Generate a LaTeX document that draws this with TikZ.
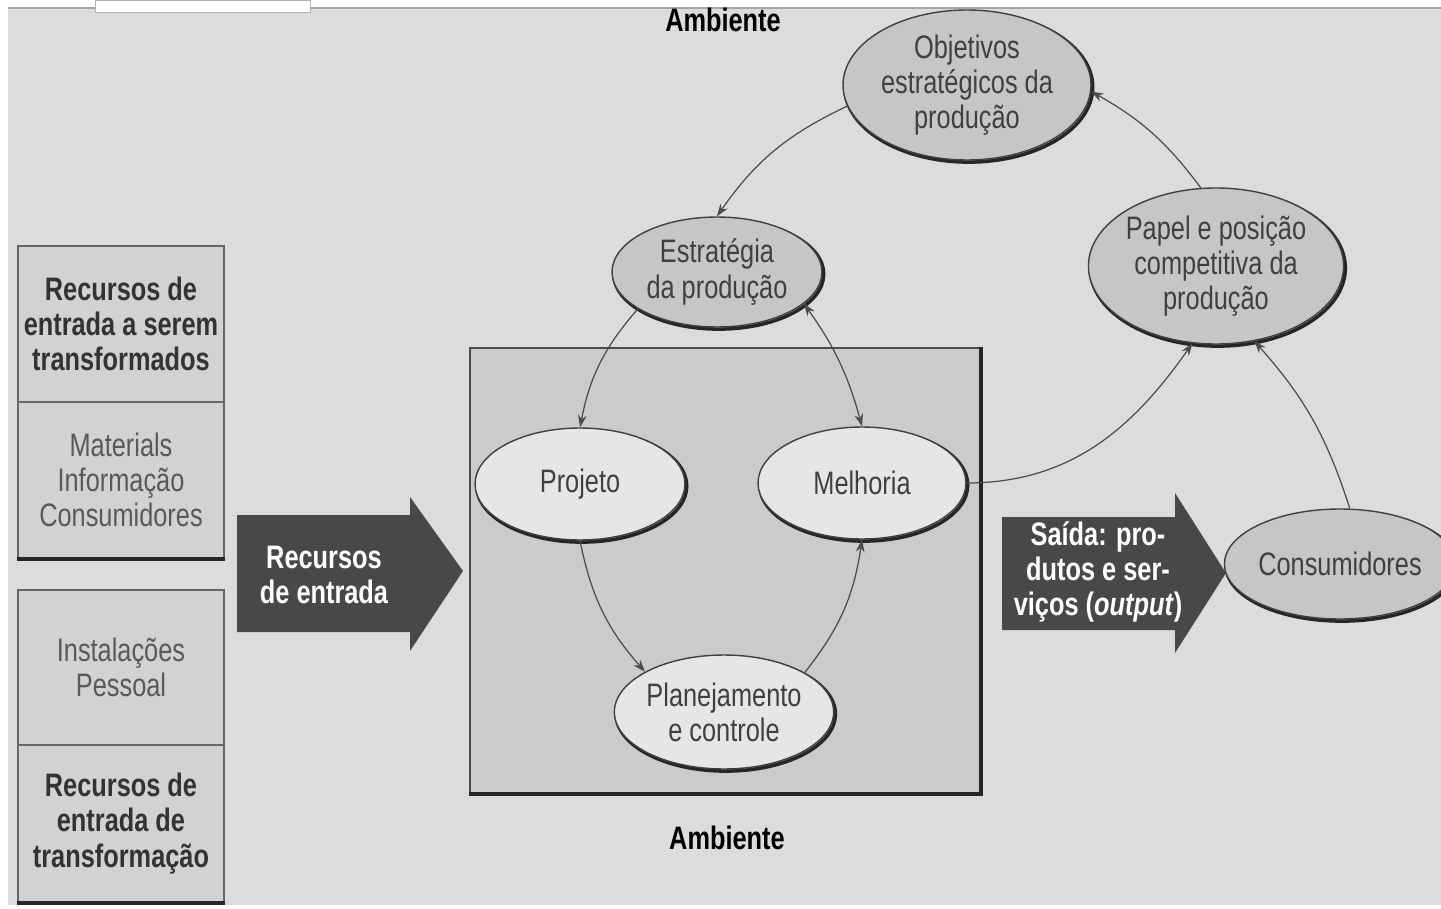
\documentclass[tikz,border=0pt]{standalone}
\usepackage{fontspec}
\setmainfont{Liberation Sans}[FakeStretch=0.78]
\usepackage{tikz}
\usetikzlibrary{arrows.meta}
\usetikzlibrary{shapes.geometric}
\usetikzlibrary{positioning}
\definecolor{bggray}{HTML}{DCDCDC}
\definecolor{boxgray}{HTML}{D2D2D2}
\definecolor{procgray}{HTML}{CBCBCB}
\definecolor{ellgray}{HTML}{C6C6C6}
\definecolor{elllight}{HTML}{E6E6E6}
\definecolor{arrgray}{HTML}{484848}
\definecolor{txtgray}{HTML}{404040}
\newcommand{\dgmfont}{\fontsize{18.5}{20}\selectfont}
\tikzset{elli/.style = {ellipse, draw = black!75, line width = 0.8pt, fill = ellgray, inner sep = 0, align = center, text = txtgray, font = \dgmfont,
    preaction = {draw = black!85, line width = 2pt, transform canvas = {shift = {(1pt, -1.2pt)}}}}}
\tikzset{lelli/.style = {elli, fill = elllight}}
\tikzset{sect/.style = {rectangle, draw = black!60, line width = 1pt, fill = boxgray, minimum width = 4.12cm, inner sep = 0, align = center, text = black!65, font = \dgmfont}}
\tikzset{bsect/.style = {sect, text = black!80, font = \dgmfont\bfseries}}
\tikzset{flow/.style = {-{Stealth[length = 7pt, width = 5pt]}, draw = black!70, line width = 0.7pt}}
\tikzset{arrtext/.style = {text = white, align = center, font = \dgmfont\bfseries}}

\begin{document}
\begin{tikzpicture}[x = 0.02cm, y = 0.02cm]
    \useasboundingbox (0, 0) rectangle (1441, -909);
    \fill [white] (0, 0) rectangle (1441, -909);
    \fill [bggray] (8, -8) rectangle (1441, -905);
    \draw [black!35, line width = 1pt] (8, -8) -- (1441, -8);
    \draw [black!30, fill = white] (95, 0) rectangle (310, -12);

    \node (ambtop) [font = \dgmfont\bfseries] at (723, -20) {Ambiente};
    \node (ambbot) [font = \dgmfont\bfseries] at (727, -838) {Ambiente};

    \node (proc) [rectangle, draw = black!70, line width = 1pt, fill = procgray, minimum width = 10.2cm, minimum height = 8.9cm] at (725, -570.5) {};
    \draw [black!85, line width = 2.2pt] (proc.north east) -- (proc.south east) -- (proc.south west);

    \node (trans) [bsect, minimum height = 3.12cm] at (121, -324) {Recursos de\\entrada a serem\\transformados};
    \node (mat) [sect, minimum height = 3.12cm] at (121, -480) {Materials\\Informação\\Consumidores};
    \draw [black!85, line width = 2.2pt] (mat.south west) -- (mat.south east);
    \node (inst) [sect, minimum height = 3.1cm] at (121, -667.5) {Instalações\\Pessoal};
    \node (transf) [bsect, minimum height = 3.14cm] at (121, -823.5) {Recursos de\\entrada de\\transformação};
    \draw [black!85, line width = 2.2pt] (transf.south west) -- (transf.south east);

    \fill [arrgray] (237, -515) -- (410, -515) -- (410, -497) -- (463, -571) -- (410, -651) -- (410, -632) -- (237, -632) -- cycle;
    \node (entrada) [arrtext] at (324, -575) {Recursos\\de entrada};
    \fill [arrgray] (1002, -517) -- (1175, -517) -- (1175, -493) -- (1226, -573) -- (1175, -653) -- (1175, -630) -- (1002, -630) -- cycle;
    \node (saida) [arrtext] at (1098, -572) {Saída: pro-\\dutos e ser-\\viços (\emph{output})};

    \node (obj) [elli, minimum width = 4.96cm, minimum height = 3cm] at (967, -85) {Objetivos\\estratégicos da\\produção};
    \node (estr) [elli, minimum width = 4.2cm, minimum height = 2.2cm] at (717, -272) {Estratégia\\da produção};
    \node (papel) [elli, minimum width = 5cm, minimum height = 3.12cm] at (1216, -266) {Papel e posição\\competitiva da\\produção};
    \node (proj) [lelli, minimum width = 4.2cm, minimum height = 2.24cm] at (580, -484) {Projeto};
    \node (melh) [lelli, minimum width = 4.16cm, minimum height = 2.24cm] at (862, -483) {Melhoria};
    \node (plan) [lelli, minimum width = 4.08cm, minimum height = 2.28cm] at (724, -712) {Planejamento\\e controle};
    \node (cons) [elli, minimum width = 4.12cm, minimum height = 2.2cm] at (1340, -564) {Consumidores};

    \draw [flow] (obj.190) to [bend right = 15] (estr.north);
    \draw [flow] (estr.205) to [bend right = 15] (proj.north);
    \draw [flow, {Stealth[length = 7pt, width = 5pt]}-{Stealth[length = 7pt, width = 5pt]}] (estr.-20) to [bend left = 10] (melh.north);
    \draw [flow] (proj.south) to [bend right = 15] (plan.153);
    \draw [flow] (plan.26) to [bend right = 15] (melh.south);
    \draw [flow] (melh.east) to [out = 0, in = 235] (papel.253);
    \draw [flow] (cons.80) to [bend right = 12] (papel.297);
    \draw [flow] (papel.101) to [bend right = 12] (obj.-3);
  \end{tikzpicture}
\end{document}
